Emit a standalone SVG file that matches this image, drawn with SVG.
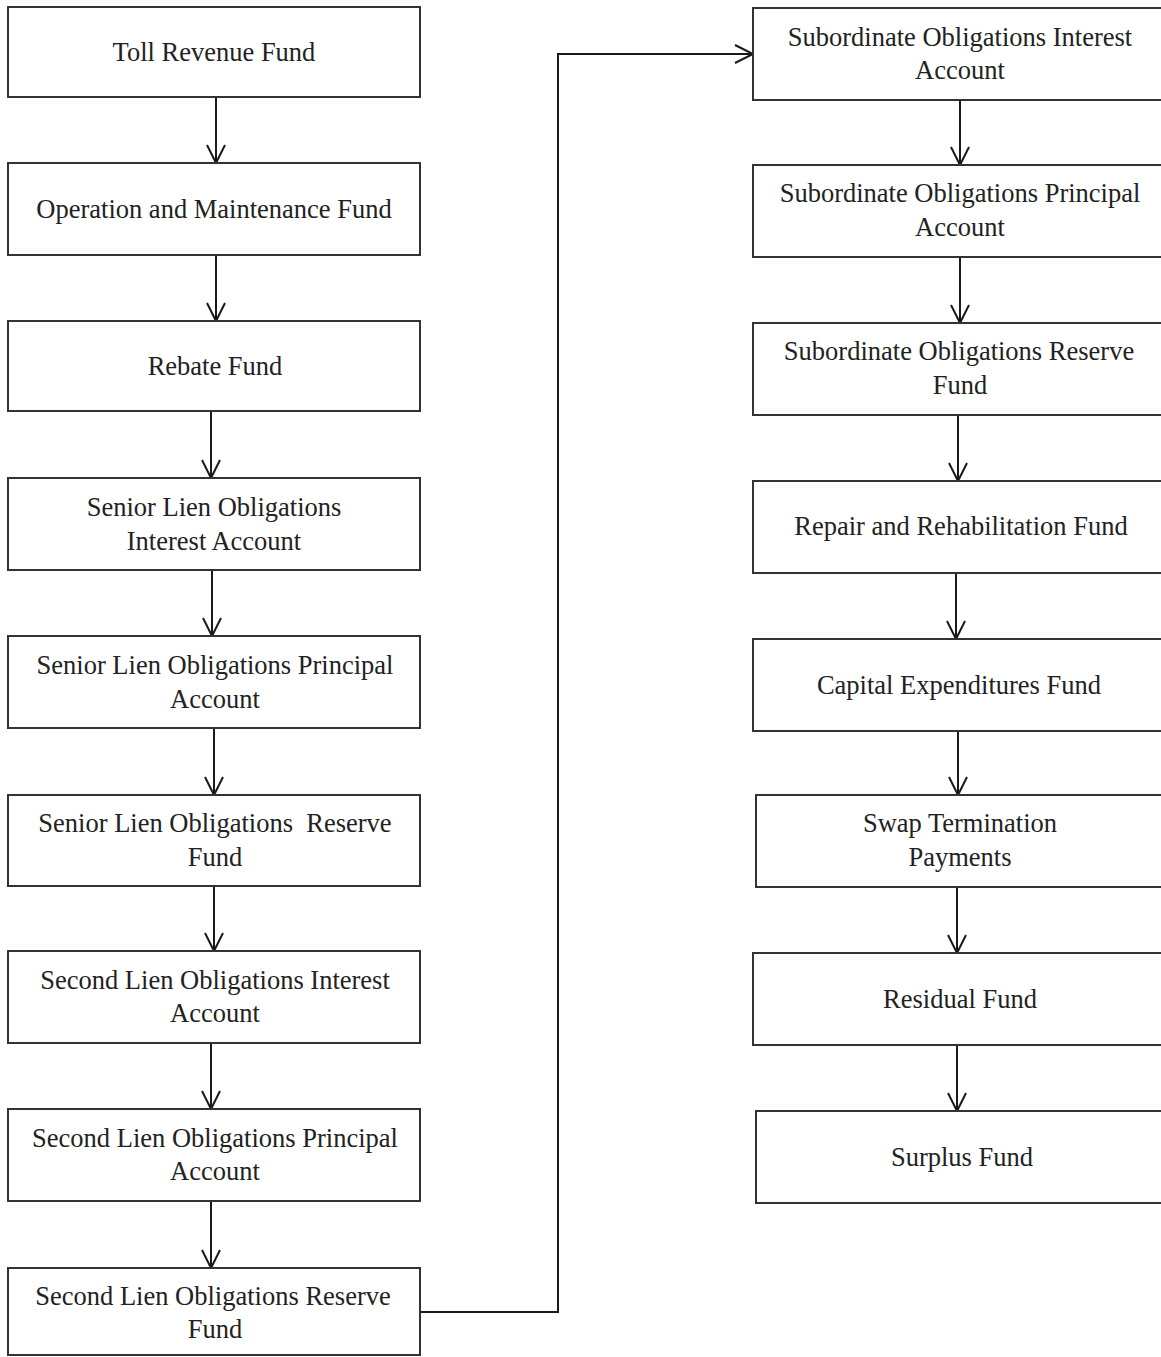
<svg xmlns="http://www.w3.org/2000/svg" width="1161" height="1357" viewBox="0 0 1161 1357">
<defs>
<marker id="arr" markerUnits="userSpaceOnUse" markerWidth="24" markerHeight="24" viewBox="-20 -12 24 24" refX="0" refY="0" orient="auto">
<path d="M-18,-9 L0,0 L-18,9" fill="none" stroke="#1a1a1a" stroke-width="2"/>
</marker>
</defs>
<style>
rect{fill:#fff;stroke:#333;stroke-width:2}
text{font-family:"Liberation Serif","Times New Roman",serif;font-size:26.5px;fill:#222;text-anchor:middle;white-space:pre}
.c{fill:none;stroke:#1a1a1a;stroke-width:2;marker-end:url(#arr)}
</style>
<rect width="1161" height="1357" style="fill:#fff;stroke:none"/>
<g id="connectors">
<path class="c" d="M216,97 V163"/>
<path class="c" d="M216,255 V321"/>
<path class="c" d="M211,411 V478"/>
<path class="c" d="M212,570 V636"/>
<path class="c" d="M214,728 V795"/>
<path class="c" d="M214,886 V951"/>
<path class="c" d="M211,1043 V1109"/>
<path class="c" d="M211,1201 V1268"/>
<path class="c" d="M420,1312 H558 V54 H753"/>
<path class="c" d="M960,100 V165"/>
<path class="c" d="M960,257 V323"/>
<path class="c" d="M958,415 V481"/>
<path class="c" d="M956,573 V639"/>
<path class="c" d="M958,731 V795"/>
<path class="c" d="M957,887 V953"/>
<path class="c" d="M957,1045 V1111"/>
</g>
<g id="n1"><rect x="8" y="7" width="412" height="90"/><text x="214" y="61">Toll Revenue Fund</text></g>
<g id="n2"><rect x="8" y="163" width="412" height="92"/><text x="214" y="218">Operation and Maintenance Fund</text></g>
<g id="n3"><rect x="8" y="321" width="412" height="90"/><text x="215" y="375">Rebate Fund</text></g>
<g id="n4"><rect x="8" y="478" width="412" height="92"/><text x="214" y="516">Senior Lien Obligations</text><text x="214" y="550">Interest Account</text></g>
<g id="n5"><rect x="8" y="636" width="412" height="92"/><text x="215" y="674">Senior Lien Obligations Principal</text><text x="215" y="708">Account</text></g>
<g id="n6"><rect x="8" y="795" width="412" height="91"/><text x="215" y="832">Senior Lien Obligations  Reserve</text><text x="215" y="866">Fund</text></g>
<g id="n7"><rect x="8" y="951" width="412" height="92"/><text x="215" y="989">Second Lien Obligations Interest</text><text x="215" y="1022">Account</text></g>
<g id="n8"><rect x="8" y="1109" width="412" height="92"/><text x="215" y="1147">Second Lien Obligations Principal</text><text x="215" y="1180">Account</text></g>
<g id="n9"><rect x="8" y="1268" width="412" height="87"/><text x="213" y="1305">Second Lien Obligations Reserve</text><text x="215" y="1338">Fund</text></g>
<g id="r1"><rect x="753" y="8" width="420" height="92"/><text x="960" y="46">Subordinate Obligations Interest</text><text x="960" y="79">Account</text></g>
<g id="r2"><rect x="753" y="165" width="420" height="92"/><text x="960" y="202">Subordinate Obligations Principal</text><text x="960" y="236">Account</text></g>
<g id="r3"><rect x="753" y="323" width="420" height="92"/><text x="959" y="360">Subordinate Obligations Reserve</text><text x="960" y="394">Fund</text></g>
<g id="r4"><rect x="753" y="481" width="420" height="92"/><text x="961" y="535">Repair and Rehabilitation Fund</text></g>
<g id="r5"><rect x="753" y="639" width="420" height="92"/><text x="959" y="694">Capital Expenditures Fund</text></g>
<g id="r6"><rect x="756" y="795" width="420" height="92"/><text x="960" y="832">Swap Termination</text><text x="960" y="866">Payments</text></g>
<g id="r7"><rect x="753" y="953" width="420" height="92"/><text x="960" y="1008">Residual Fund</text></g>
<g id="r8"><rect x="756" y="1111" width="420" height="92"/><text x="962" y="1166">Surplus Fund</text></g>
</svg>
